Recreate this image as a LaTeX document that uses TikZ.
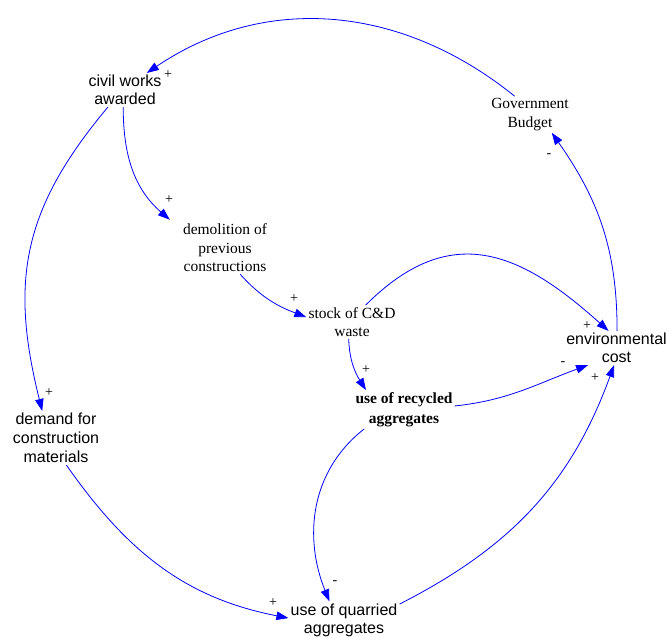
\documentclass[tikz,border=0pt]{standalone}
\usepackage{fontspec}
\setmainfont{Liberation Serif}
\newfontfamily\arialfont{Liberation Sans}
\usetikzlibrary{arrows.meta}

\begin{document}
\begin{tikzpicture}[x=1pt,y=1pt]
    \tikzset{var/.style  = {align=center, inner sep=2pt,
        font=\arialfont\fontsize{16}{18}\selectfont},
      tvar/.style = {align=center, inner sep=2pt,
        font=\fontsize{15.5}{18.5}\selectfont},
      link/.style = {blue, line width=0.8pt,
        -{Triangle[length=12pt,width=8.5pt]}},
      sign/.style = {inner sep=0pt, font=\fontsize{14}{14}\selectfont}}

    \useasboundingbox (0,0) rectangle (667,-637);

    % Draw the variables.
    \node[var]  (civil)  at (125,-90)    {civil works\\awarded};
    \node[tvar] (budget) at (530,-114.5) {Government\\Budget};
    \node[tvar] (demol)  at (225,-248)   {demolition of\\previous\\constructions};
    \node[tvar] (stock)  at (352,-322)   {stock of C\&D\\waste};
    \node[tvar, font=\bfseries\fontsize{15.5}{20}\selectfont]
                (recyc)  at (404,-409.5) {use of recycled\\aggregates};
    \node[var]  (env)    at (616.5,-348) {environmental\\cost};
    \node[var, font=\arialfont\fontsize{16}{19}\selectfont]
                (demand) at (56,-438)    {demand for\\construction\\materials};
    \node[var]  (quarr)  at (344,-620)   {use of quarried\\aggregates};

    % Draw the causal links.
    \draw[link] (budget.130) to[out=141,in=34]  (civil.38);
    \draw[link] (civil.264)  to[out=270,in=139] ([shift={(-11,2)}]demol.north west);
    \draw[link] (civil.225)  to[out=230,in=104,looseness=1.1] (demand.117);
    \draw[link] (demol.-60)  to[out=-48,in=159] (stock.174);
    \draw[link] (stock.259)  to[out=-88,in=122] (recyc.153);
    \draw[link] (stock.51)   to[out=45,in=138,looseness=1.25] (env.115);
    \draw[link] (env.88)     to[out=90,in=-55]  (budget.-40);
    \draw[link] (recyc.4)    to[out=6,in=200]   (env.211);
    \draw[link] (recyc.206)  to[out=218,in=112] (quarr.128);
    \draw[link] (demand.-69) to[out=-55,in=169] (quarr.178);
    \draw[link] (quarr.16)   to[out=27,in=250]  (env.262);

    % Draw the polarities.
    \node[sign] (s1)  at (168,-75)  {+};
    \node[sign] (s2)  at (169,-200) {+};
    \node[sign] (s3)  at (49,-393)  {+};
    \node[sign] (s4)  at (294,-299) {+};
    \node[sign] (s5)  at (366,-370) {+};
    \node[sign] (s6)  at (587,-326) {+};
    \node[sign] (s7)  at (549,-156) {-};
    \node[sign] (s8)  at (563,-364) {-};
    \node[sign] (s9)  at (335,-583) {-};
    \node[sign] (s10) at (273,-603) {+};
    \node[sign] (s11) at (595,-378) {+};
\end{tikzpicture}
\end{document}
